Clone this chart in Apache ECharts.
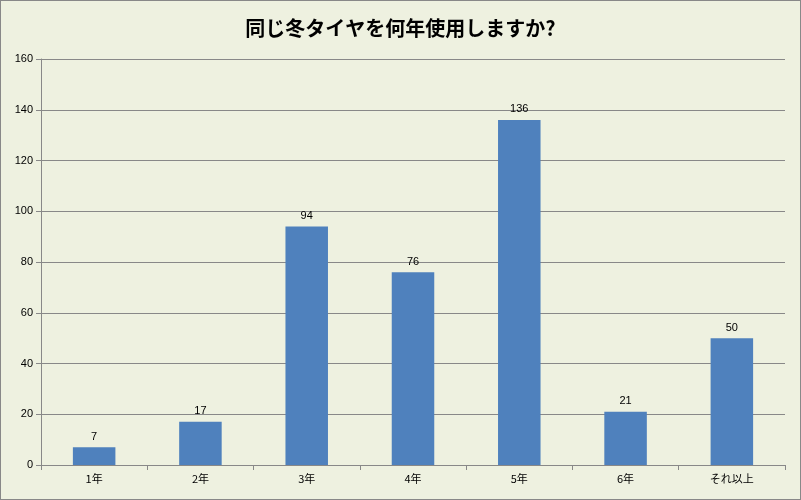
<!DOCTYPE html>
<html><head><meta charset="utf-8">
<script src="https://cdn.jsdelivr.net/npm/echarts@6/dist/echarts.min.js"></script>
<style>html,body{margin:0;padding:0;background:#eef1e0}#c{width:801px;height:500px;box-sizing:border-box;border:1px solid #888}</style>
</head><body><div id="c"></div>
<script>
var categories = ['1年', '2年', '3年', '4年', '5年', '6年', 'それ以上'];
var counts = [7, 17, 94, 76, 136, 21, 50];

var chart = echarts.init(document.getElementById('c'));
chart.setOption({
  backgroundColor: '#eef1e0',
  title: {
    text: '同じ冬タイヤを何年使用しますか?',
    left: 'center', top: 12,
    textStyle: { fontFamily: 'Noto Sans CJK JP', fontSize: 20, fontWeight: 'bold', color: '#000' }
  },
  grid: { left: 40, right: 15, top: 58, bottom: 34 },
  xAxis: {
    type: 'category', data: categories,
    axisLine: { lineStyle: { color: '#888' } },
    axisTick: { show: true, alignWithLabel: false, lineStyle: { color: '#888' } },
    axisLabel: { color: '#000', fontSize: 11, fontFamily: 'Noto Sans CJK JP' }
  },
  yAxis: {
    type: 'value', min: 0, max: 160, interval: 20,
    axisLine: { show: true, lineStyle: { color: '#888' } },
    axisTick: { show: true, lineStyle: { color: '#888' } },
    axisLabel: { color: '#000', fontSize: 11 },
    splitLine: { lineStyle: { color: '#888' } }
  },
  series: [{
    type: 'bar', data: counts, barWidth: '40%',
    itemStyle: { color: '#4f81bd' },
    label: { show: true, position: 'top', color: '#000', fontSize: 11 }
  }]
});
</script></body></html>
